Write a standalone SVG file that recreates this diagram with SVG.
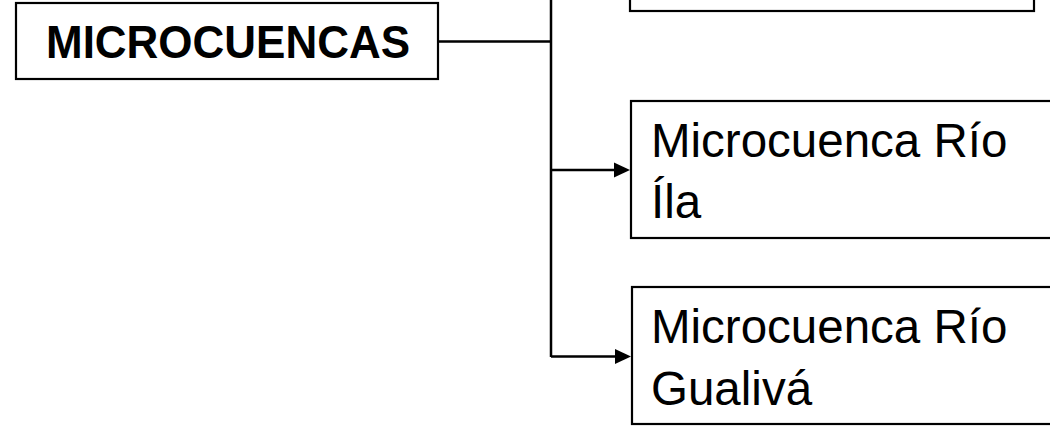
<svg xmlns="http://www.w3.org/2000/svg" width="1050" height="427" viewBox="0 0 1050 427">
<style>
.box{fill:#fff;stroke:#000;stroke-width:2.2}
.t{font-family:"Liberation Sans",Arial,sans-serif;font-size:47.5px;fill:#000}
.b{font-family:"Liberation Sans",Arial,sans-serif;font-size:46px;font-weight:bold;fill:#000}
.c{fill:none;stroke:#000;stroke-width:2.5}
.ah{fill:#000}
</style>
<g id="connectors">
<path class="c" d="M438 41.5H551M551 0V357"/>
<path class="c" d="M551 170H614M551 356.5H615"/>
<polygon class="ah" points="614,162.5 630,170 614,177.5"/>
<polygon class="ah" points="615,349 631,356.5 615,364"/>
</g>
<g id="node-microcuencas">
<rect class="box" x="16" y="3" width="422" height="76"/>
<text class="b" x="46" y="58" textLength="364" lengthAdjust="spacingAndGlyphs">MICROCUENCAS</text>
</g>
<g id="node-top">
<rect class="box" x="630" y="-40" width="404" height="51"/>
</g>
<g id="node-ila">
<rect class="box" x="631" y="101" width="440" height="137"/>
<text class="t" x="651" y="157">Microcuenca Río</text>
<text class="t" x="651" y="218">Íla</text>
</g>
<g id="node-gualiva">
<rect class="box" x="632" y="287" width="440" height="137"/>
<text class="t" x="651" y="343">Microcuenca Río</text>
<text class="t" x="651" y="405">Gualivá</text>
</g>
</svg>
